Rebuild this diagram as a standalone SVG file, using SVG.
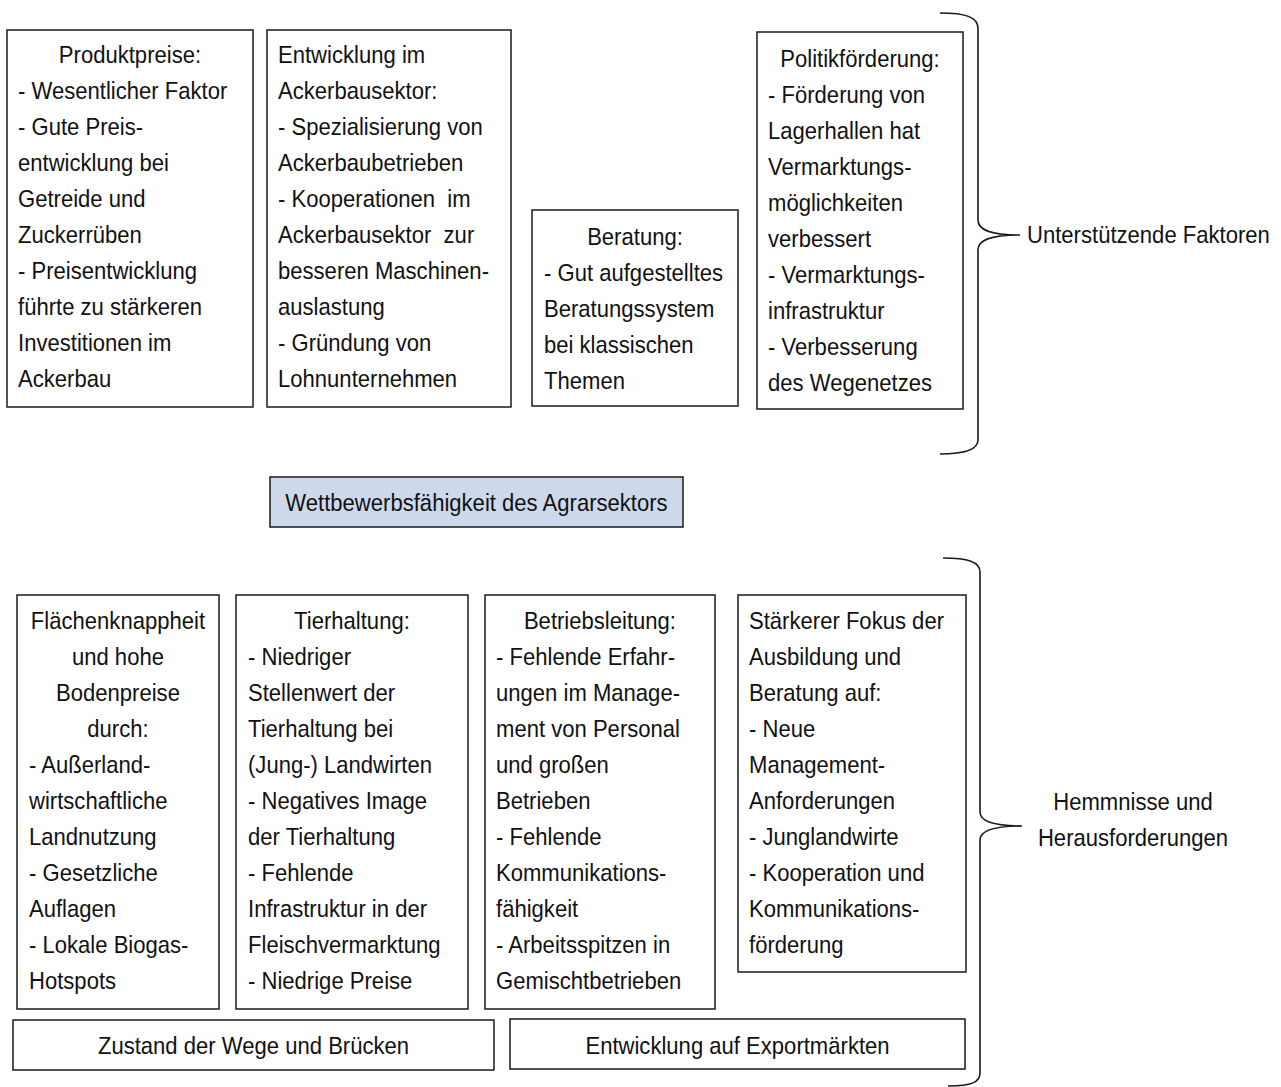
<svg xmlns="http://www.w3.org/2000/svg" width="1281" height="1087" viewBox="0 0 1281 1087">
<style>
.box{fill:#ffffff;stroke:#1a1a1a;stroke-width:1.5}
.hub{fill:#cdd9ea;stroke:#1a1a1a;stroke-width:1.5}
.t{font-family:"Liberation Sans",Arial,sans-serif;font-size:24px;fill:#111111}
.c{text-anchor:middle}
.brace{fill:none;stroke:#1a1a1a;stroke-width:1.6}
</style>
<rect width="1281" height="1087" fill="#ffffff"/>

<g id="connectors">
<path class="brace" d="M940,13 C965,13 978,17 978,28 V220 C978,230 990,235 1020,235 C990,235 978,240 978,250 V440 C978,450 965,454 940,454"/>
<path class="brace" d="M943,558 C968,558 980,562 980,572 V812 C980,821 992,826 1022,826 C992,826 980,831 980,840 V1073 C980,1082 972,1086 948,1086"/>
</g>

<g id="produktpreise">
<rect class="box" x="7" y="30" width="246" height="377"/>
<g transform="translate(18 0) scale(0.92 1)">
<text class="t c" x="121.7" y="63">Produktpreise:</text>
<text class="t" x="0" y="99">- Wesentlicher Faktor</text>
<text class="t" x="0" y="135">- Gute Preis-</text>
<text class="t" x="0" y="171">entwicklung bei</text>
<text class="t" x="0" y="207">Getreide und</text>
<text class="t" x="0" y="243">Zuckerrüben</text>
<text class="t" x="0" y="279">- Preisentwicklung</text>
<text class="t" x="0" y="315">führte zu stärkeren</text>
<text class="t" x="0" y="351">Investitionen im</text>
<text class="t" x="0" y="387">Ackerbau</text>
</g>
</g>

<g id="ackerbau">
<rect class="box" x="267" y="30" width="244" height="377"/>
<g transform="translate(278 0) scale(0.92 1)">
<text class="t" x="0" y="63">Entwicklung im</text>
<text class="t" x="0" y="99">Ackerbausektor:</text>
<text class="t" x="0" y="135">- Spezialisierung von</text>
<text class="t" x="0" y="171">Ackerbaubetrieben</text>
<text class="t" x="0" y="207" xml:space="preserve">- Kooperationen  im</text>
<text class="t" x="0" y="243" xml:space="preserve">Ackerbausektor  zur</text>
<text class="t" x="0" y="279">besseren Maschinen-</text>
<text class="t" x="0" y="315">auslastung</text>
<text class="t" x="0" y="351">- Gründung von</text>
<text class="t" x="0" y="387">Lohnunternehmen</text>
</g>
</g>

<g id="beratung">
<rect class="box" x="532" y="210" width="206" height="196"/>
<g transform="translate(544 0) scale(0.92 1)">
<text class="t c" x="98.9" y="245">Beratung:</text>
<text class="t" x="0" y="281">- Gut aufgestelltes</text>
<text class="t" x="0" y="317">Beratungssystem</text>
<text class="t" x="0" y="353">bei klassischen</text>
<text class="t" x="0" y="389">Themen</text>
</g>
</g>

<g id="politik">
<rect class="box" x="757" y="32" width="206" height="377"/>
<g transform="translate(768 0) scale(0.92 1)">
<text class="t c" x="100" y="67">Politikförderung:</text>
<text class="t" x="0" y="103">- Förderung von</text>
<text class="t" x="0" y="139">Lagerhallen hat</text>
<text class="t" x="0" y="175">Vermarktungs-</text>
<text class="t" x="0" y="211">möglichkeiten</text>
<text class="t" x="0" y="247">verbessert</text>
<text class="t" x="0" y="283">- Vermarktungs-</text>
<text class="t" x="0" y="319">infrastruktur</text>
<text class="t" x="0" y="355">- Verbesserung</text>
<text class="t" x="0" y="391">des Wegenetzes</text>
</g>
</g>

<g id="unterstuetzende">
<g transform="translate(1027 0) scale(0.92 1)">
<text class="t" x="0" y="243">Unterstützende Faktoren</text>
</g>
</g>

<g id="wettbewerb">
<rect class="hub" x="270" y="477" width="413" height="50"/>
<g transform="translate(476.5 0) scale(0.92 1)">
<text class="t c" x="0" y="511">Wettbewerbsfähigkeit des Agrarsektors</text>
</g>
</g>

<g id="flaechen">
<rect class="box" x="17" y="595" width="202" height="414"/>
<g transform="translate(29 0) scale(0.92 1)">
<text class="t c" x="96.7" y="629">Flächenknappheit</text>
<text class="t c" x="96.7" y="665">und hohe</text>
<text class="t c" x="96.7" y="701">Bodenpreise</text>
<text class="t c" x="96.7" y="737">durch:</text>
<text class="t" x="0" y="773">- Außerland-</text>
<text class="t" x="0" y="809">wirtschaftliche</text>
<text class="t" x="0" y="845">Landnutzung</text>
<text class="t" x="0" y="881">- Gesetzliche</text>
<text class="t" x="0" y="917">Auflagen</text>
<text class="t" x="0" y="953">- Lokale Biogas-</text>
<text class="t" x="0" y="989">Hotspots</text>
</g>
</g>

<g id="tierhaltung">
<rect class="box" x="236" y="595" width="232" height="414"/>
<g transform="translate(248 0) scale(0.92 1)">
<text class="t c" x="113" y="629">Tierhaltung:</text>
<text class="t" x="0" y="665">- Niedriger</text>
<text class="t" x="0" y="701">Stellenwert der</text>
<text class="t" x="0" y="737">Tierhaltung bei</text>
<text class="t" x="0" y="773">(Jung-) Landwirten</text>
<text class="t" x="0" y="809">- Negatives Image</text>
<text class="t" x="0" y="845">der Tierhaltung</text>
<text class="t" x="0" y="881">- Fehlende</text>
<text class="t" x="0" y="917">Infrastruktur in der</text>
<text class="t" x="0" y="953">Fleischvermarktung</text>
<text class="t" x="0" y="989">- Niedrige Preise</text>
</g>
</g>

<g id="betriebsleitung">
<rect class="box" x="485" y="595" width="230" height="414"/>
<g transform="translate(496 0) scale(0.92 1)">
<text class="t c" x="113" y="629">Betriebsleitung:</text>
<text class="t" x="0" y="665">- Fehlende Erfahr-</text>
<text class="t" x="0" y="701">ungen im Manage-</text>
<text class="t" x="0" y="737">ment von Personal</text>
<text class="t" x="0" y="773">und großen</text>
<text class="t" x="0" y="809">Betrieben</text>
<text class="t" x="0" y="845">- Fehlende</text>
<text class="t" x="0" y="881">Kommunikations-</text>
<text class="t" x="0" y="917">fähigkeit</text>
<text class="t" x="0" y="953">- Arbeitsspitzen in</text>
<text class="t" x="0" y="989">Gemischtbetrieben</text>
</g>
</g>

<g id="ausbildung">
<rect class="box" x="738" y="595" width="228" height="377"/>
<g transform="translate(749 0) scale(0.92 1)">
<text class="t" x="0" y="629">Stärkerer Fokus der</text>
<text class="t" x="0" y="665">Ausbildung und</text>
<text class="t" x="0" y="701">Beratung auf:</text>
<text class="t" x="0" y="737">- Neue</text>
<text class="t" x="0" y="773">Management-</text>
<text class="t" x="0" y="809">Anforderungen</text>
<text class="t" x="0" y="845">- Junglandwirte</text>
<text class="t" x="0" y="881">- Kooperation und</text>
<text class="t" x="0" y="917">Kommunikations-</text>
<text class="t" x="0" y="953">förderung</text>
</g>
</g>

<g id="hemmnisse">
<g transform="translate(1133 0) scale(0.92 1)">
<text class="t c" x="0" y="810">Hemmnisse und</text>
<text class="t c" x="0" y="846">Herausforderungen</text>
</g>
</g>

<g id="wege">
<rect class="box" x="13" y="1020" width="481" height="50"/>
<g transform="translate(253.5 0) scale(0.92 1)">
<text class="t c" x="0" y="1054">Zustand der Wege und Brücken</text>
</g>
</g>

<g id="export">
<rect class="box" x="510" y="1019" width="455" height="50"/>
<g transform="translate(737.5 0) scale(0.92 1)">
<text class="t c" x="0" y="1054">Entwicklung auf Exportmärkten</text>
</g>
</g>
</svg>
